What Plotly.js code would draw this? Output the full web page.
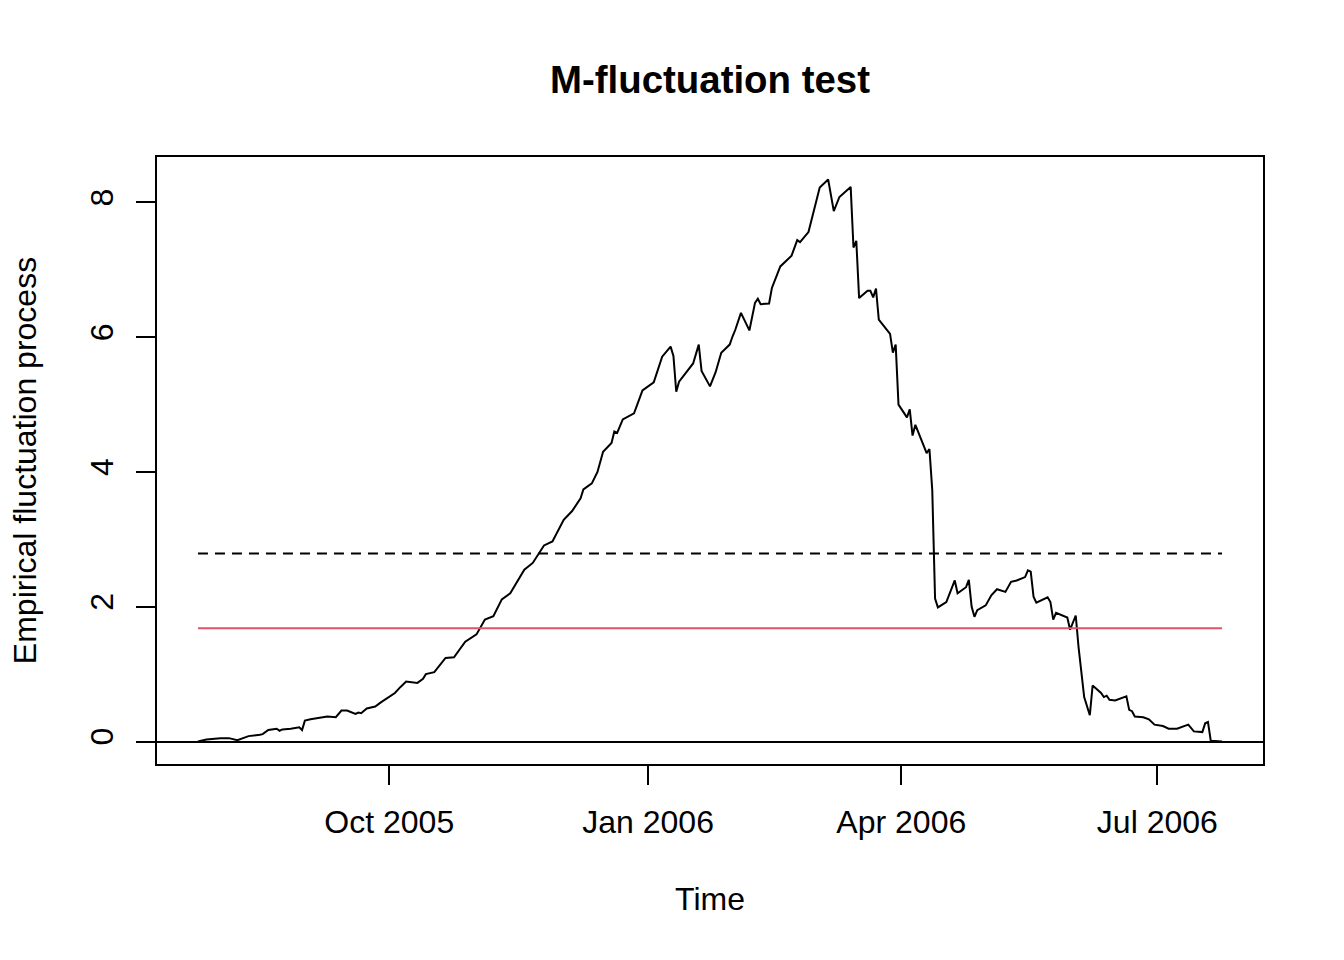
<!DOCTYPE html>
<html>
<head>
<meta charset="utf-8">
<script src="https://cdn.plot.ly/plotly-3.0.1.min.js"></script>
<style>
  html, body { margin: 0; padding: 0; background: #ffffff; }
  #chart { width: 1344px; height: 960px; }
</style>
</head>
<body>
<div id="chart"></div>
<script>
// ---- data ----
const dates = [
  '2005-07-25','2005-07-28','2005-08-02','2005-08-05','2005-08-08','2005-08-10','2005-08-12','2005-08-16','2005-08-17','2005-08-19',
  '2005-08-22','2005-08-23','2005-08-24','2005-08-27','2005-08-30','2005-08-31','2005-09-01','2005-09-03','2005-09-07','2005-09-09',
  '2005-09-12','2005-09-14','2005-09-16','2005-09-19','2005-09-20','2005-09-21','2005-09-23','2005-09-26','2005-09-28','2005-10-01',
  '2005-10-03','2005-10-05','2005-10-07','2005-10-11','2005-10-13','2005-10-14','2005-10-17','2005-10-21','2005-10-24','2005-10-28',
  '2005-11-01','2005-11-04','2005-11-07','2005-11-10','2005-11-13','2005-11-18','2005-11-21','2005-11-25','2005-11-28','2005-12-02',
  '2005-12-05','2005-12-08','2005-12-09','2005-12-12','2005-12-14','2005-12-16','2005-12-19','2005-12-20','2005-12-21','2005-12-23',
  '2005-12-27','2005-12-30','2006-01-03','2006-01-06','2006-01-09','2006-01-10','2006-01-11','2006-01-12','2006-01-17','2006-01-19',
  '2006-01-20','2006-01-23','2006-01-25','2006-01-27','2006-01-30','2006-01-31','2006-02-01','2006-02-03','2006-02-06','2006-02-08',
  '2006-02-09','2006-02-10','2006-02-13','2006-02-14','2006-02-17','2006-02-21','2006-02-23','2006-02-24','2006-02-27','2006-03-03',
  '2006-03-06','2006-03-08','2006-03-10','2006-03-14','2006-03-15','2006-03-16','2006-03-17','2006-03-20','2006-03-21','2006-03-22',
  '2006-03-23','2006-03-24','2006-03-28','2006-03-29','2006-03-30','2006-03-31','2006-04-03','2006-04-04','2006-04-05','2006-04-06',
  '2006-04-10','2006-04-11','2006-04-12','2006-04-13','2006-04-14','2006-04-17','2006-04-20','2006-04-21','2006-04-24','2006-04-25',
  '2006-04-26','2006-04-27','2006-04-28','2006-05-01','2006-05-03','2006-05-05','2006-05-08','2006-05-10','2006-05-12','2006-05-15',
  '2006-05-16','2006-05-17','2006-05-18','2006-05-19','2006-05-23','2006-05-24','2006-05-25','2006-05-26','2006-05-30','2006-05-31',
  '2006-06-02','2006-06-03','2006-06-05','2006-06-07','2006-06-08','2006-06-11','2006-06-12','2006-06-13','2006-06-14','2006-06-16',
  '2006-06-20','2006-06-21','2006-06-22','2006-06-23','2006-06-26','2006-06-28','2006-06-30','2006-07-03','2006-07-05','2006-07-08',
  '2006-07-11','2006-07-12','2006-07-14','2006-07-17','2006-07-18','2006-07-19','2006-07-20','2006-07-24'
];

const fluctuation = [
  0.00,0.03,0.05,0.05,0.02,0.05,0.08,0.10,0.11,0.17,
  0.19,0.16,0.18,0.19,0.21,0.17,0.31,0.33,0.36,0.37,
  0.36,0.46,0.46,0.41,0.43,0.42,0.49,0.52,0.58,0.67,
  0.72,0.81,0.89,0.87,0.93,1.00,1.03,1.24,1.25,1.48,
  1.59,1.81,1.86,2.11,2.20,2.55,2.65,2.91,2.97,3.29,
  3.42,3.61,3.74,3.83,4.00,4.30,4.43,4.60,4.58,4.78,
  4.87,5.21,5.33,5.71,5.86,5.72,5.19,5.34,5.61,5.89,
  5.50,5.27,5.48,5.77,5.89,6.01,6.11,6.36,6.10,6.51,
  6.57,6.49,6.50,6.73,7.05,7.21,7.44,7.41,7.56,8.22,
  8.34,7.87,8.08,8.23,7.33,7.43,6.58,6.69,6.69,6.59,
  6.72,6.26,6.05,5.77,5.89,5.00,4.81,4.93,4.54,4.70,
  4.28,4.34,3.73,2.12,1.99,2.07,2.39,2.20,2.29,2.40,
  2.00,1.85,1.95,2.02,2.17,2.26,2.22,2.37,2.39,2.44,
  2.54,2.52,2.15,2.06,2.14,2.07,1.81,1.91,1.84,1.66,
  1.87,1.40,0.66,0.39,0.83,0.72,0.66,0.68,0.62,0.61,
  0.67,0.47,0.45,0.37,0.36,0.33,0.25,0.23,0.19,0.19,
  0.23,0.25,0.15,0.14,0.27,0.29,0.01,0.00
];

const boundaryDashed = 2.79;   // black dashed critical value
const boundaryRed = 1.68;      // red critical value

const tickDates = ['2005-10-01','2006-01-01','2006-04-01','2006-07-01'];
const tickLabels = ['Oct 2005','Jan 2006','Apr 2006','Jul 2006'];
const yTicks = [0, 2, 4, 6, 8];

const chartTitle = 'M-fluctuation test';
const xTitle = 'Time';
const yTitle = 'Empirical fluctuation process';

// ---- axis ranges, extended 4% like R ----
function fmt(ms) {
  return new Date(ms).toISOString().replace('T', ' ').slice(0, 19);
}
const t0 = Date.parse(dates[0]);
const t1 = Date.parse(dates[dates.length - 1]);
const padX = 0.04 * (t1 - t0);
const xRange = [fmt(t0 - padX), fmt(t1 + padX)];
const yMin = Math.min(0, ...fluctuation);
const yMax = Math.max(...fluctuation);
const padY = 0.04 * (yMax - yMin);
const yRange = [yMin - padY, yMax + padY];

const firstLast = [dates[0], dates[dates.length - 1]];

const FONT = '"Liberation Sans", Arial, Helvetica, sans-serif';

const traces = [
  {
    x: dates, y: fluctuation, type: 'scatter', mode: 'lines',
    line: { color: '#000000', width: 2 }, hoverinfo: 'skip'
  },
  {
    x: firstLast, y: [boundaryDashed, boundaryDashed], type: 'scatter', mode: 'lines',
    line: { color: '#000000', width: 2, dash: '10px,7px' }, hoverinfo: 'skip'
  },
  {
    x: firstLast, y: [boundaryRed, boundaryRed], type: 'scatter', mode: 'lines',
    line: { color: '#DF536B', width: 2 }, hoverinfo: 'skip'
  }
];

const layout = {
  width: 1344, height: 960,
  paper_bgcolor: '#ffffff', plot_bgcolor: '#ffffff',
  showlegend: false,
  margin: { l: 157, r: 81, t: 157, b: 196, pad: 0 },
  font: { family: FONT, color: '#000000', size: 32 },
  title: {
    text: '<b>' + chartTitle + '</b>',
    font: { family: FONT, size: 38.4, color: '#000000' },
    x: 0.5, xref: 'paper', xanchor: 'center',
    y: 1 - 80 / 960, yref: 'container', yanchor: 'middle'
  },
  xaxis: {
    type: 'date', range: xRange,
    tickmode: 'array', tickvals: tickDates, ticktext: tickLabels,
    ticks: 'outside', ticklen: 19, tickwidth: 2, tickcolor: '#000000',
    ticklabelstandoff: 10,
    tickfont: { family: FONT, size: 32, color: '#000000' },
    showline: true, mirror: true, linecolor: '#000000', linewidth: 2,
    showgrid: false, zeroline: false,
    title: { text: xTitle, font: { family: FONT, size: 32, color: '#000000' }, standoff: 48 }
  },
  yaxis: {
    range: yRange,
    tickmode: 'array', tickvals: yTicks, ticktext: yTicks.map(String),
    tickangle: -90,
    ticks: 'outside', ticklen: 19, tickwidth: 2, tickcolor: '#000000',
    ticklabelstandoff: 10,
    tickfont: { family: FONT, size: 32, color: '#000000' },
    showline: true, mirror: true, linecolor: '#000000', linewidth: 2,
    showgrid: false,
    zeroline: true, zerolinecolor: '#000000', zerolinewidth: 2,
    title: { text: yTitle, font: { family: FONT, size: 32, color: '#000000' }, standoff: 38 }
  }
};

Plotly.newPlot('chart', traces, layout, { displayModeBar: false, staticPlot: true });
</script>
</body>
</html>
